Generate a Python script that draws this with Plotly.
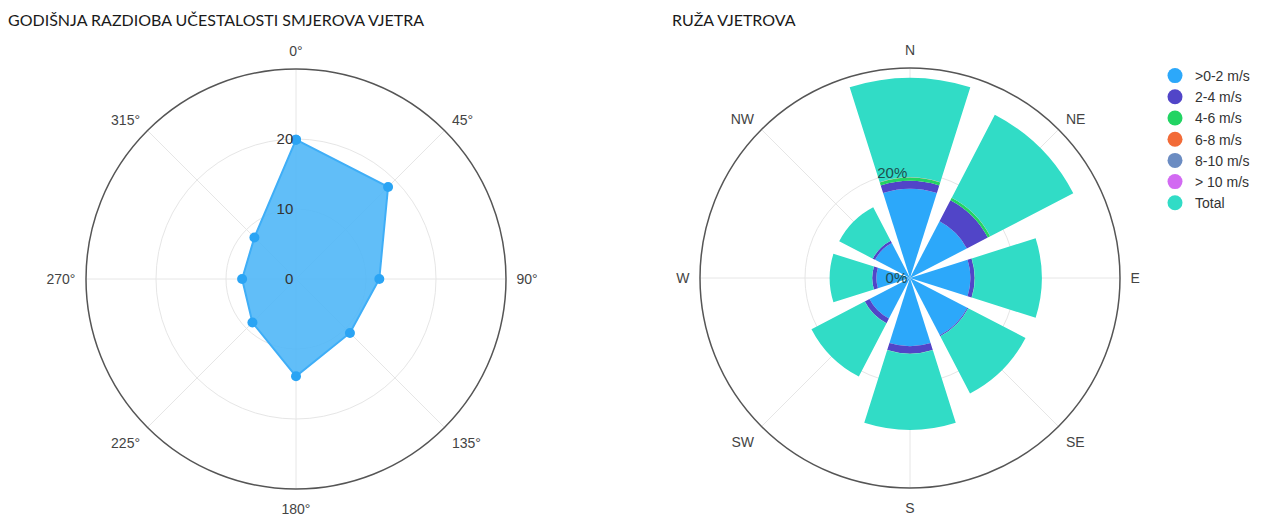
import plotly.graph_objects as go

# ---- Left chart data: annual frequency of wind directions (%) ----
freq_angles = [0, 45, 90, 135, 180, 225, 270, 315]
freq_values = [19.9, 18.6, 11.9, 10.9, 13.9, 8.8, 7.7, 8.4]
angle_ticks = [0, 45, 90, 135, 180, 225, 270, 315]

# ---- Right chart data: wind rose (%) ----
directions = ["N", "NE", "E", "SE", "S", "SW", "W", "NW"]
speed_0_2 = [17.0, 12.2, 11.5, 12.3, 13.0, 8.7, 6.4, 7.5]
speed_2_4 = [1.5, 4.5, 0.8, 0.2, 1.4, 1.0, 0.8, 0.5]
speed_4_6 = [0.6, 0.5, 0.05, 0.0, 0.05, 0.05, 0.0, 0.0]
speed_6_8 = [0.05, 0.05, 0.0, 0.0, 0.0, 0.0, 0.0, 0.0]
speed_8_10 = [0.0, 0.0, 0.0, 0.0, 0.0, 0.0, 0.0, 0.0]
speed_10p = [0.0, 0.0, 0.0, 0.0, 0.0, 0.0, 0.0, 0.0]
total = [18.95, 17.8, 12.75, 12.3, 14.45, 11.4, 8.1, 7.2]
radial_ticks = [0, 20]
radial_ticktext = ["0%", "20%"]

series_names = [">0-2 m/s", "2-4 m/s", "4-6 m/s", "6-8 m/s", "8-10 m/s", "> 10 m/s", "Total"]
series_values = [speed_0_2, speed_2_4, speed_4_6, speed_6_8, speed_8_10, speed_10p, total]
series_colors = ["#2CA8FA", "#5145C8", "#22D463", "#F26B38", "#6B8CC2", "#D26AF2", "#31DCC6"]

TICK_FONT = dict(family="Liberation Sans, Arial, sans-serif", size=14, color="#444444")
RAD_FONT = dict(family="Liberation Sans, Arial, sans-serif", size=15, color="#333333")
TITLE_FONT = dict(family="Lato, Open Sans, sans-serif", size=16, color="#1a1a1a")

fig = go.Figure()

# Left: frequency polygon
fig.add_trace(go.Scatterpolar(
    r=freq_values + freq_values[:1],
    theta=freq_angles + freq_angles[:1],
    mode="lines+markers",
    fill="toself",
    fillcolor="rgba(80,183,247,0.90)",
    line=dict(color="#3FAEF7", width=2),
    marker=dict(color="#2AA4F4", size=10),
    showlegend=False,
    subplot="polar",
    hoverinfo="r+theta",
))

# Right: stacked wind rose bars
for name, vals, col in zip(series_names, series_values, series_colors):
    fig.add_trace(go.Barpolar(
        r=vals, theta=directions, name=name,
        marker=dict(color=col, line=dict(width=0)),
        showlegend=False, subplot="polar2",
    ))
# legend entries (circle symbols)
for name, col in zip(series_names, series_colors):
    fig.add_trace(go.Scatterpolar(
        r=[None], theta=[None], mode="markers", name=name, legendgroup=name,
        marker=dict(color=col, size=15), subplot="polar2",
        showlegend=True,
    ))

W, H = 1262, 517

def dom(cx, cy, rad):
    return dict(x=[(cx - rad) / W, (cx + rad) / W],
                y=[(H - cy - rad) / H, (H - cy + rad) / H])

common_ang = dict(direction="clockwise", rotation=90, showline=True,
                  linecolor="#555555", linewidth=1.5, gridcolor="#E6E6E6",
                  tickfont=TICK_FONT, ticks="outside", ticklen=7,
                  tickcolor="rgba(0,0,0,0)", showgrid=True)

fig.update_layout(
    width=W, height=H,
    template="none",
    paper_bgcolor="white",
    margin=dict(l=0, r=0, t=0, b=0, autoexpand=False),
    polar=dict(
        domain=dom(296, 279, 210),
        bgcolor="white",
        angularaxis=dict(tickmode="array", tickvals=angle_ticks,
                         ticktext=[f"{a}°" for a in angle_ticks], **common_ang),
        radialaxis=dict(range=[0, 30], tickvals=[0, 10, 20], showline=False,
                        gridcolor="#E6E6E6", tickfont=RAD_FONT, ticks="",
                        angle=90, tickangle=90, side="counterclockwise"),
    ),
    polar2=dict(
        domain=dom(910, 278, 210),
        bgcolor="white",
        bargap=0.22,
        angularaxis=dict(type="category", categoryarray=directions, **common_ang),
        radialaxis=dict(range=[0, 40], tickmode="array", tickvals=radial_ticks,
                        ticktext=radial_ticktext,
                        showline=False, gridcolor="#E6E6E6",
                        tickfont=dict(family="Liberation Sans, Arial, sans-serif", size=15, color="#1f4f4f"),
                        ticks="", angle=90, tickangle=90, side="counterclockwise",
                        layer="above traces"),
    ),
    legend=dict(x=1155 / W, y=1 - 60 / H, xanchor="left", yanchor="top",
                font=dict(family="Liberation Sans, Arial, sans-serif", size=14, color="#333333"),
                traceorder="normal", itemwidth=30, tracegroupgap=2,
                bgcolor="rgba(0,0,0,0)"),
    annotations=[
        dict(text="GODIŠNJA RAZDIOBA UČESTALOSTI SMJEROVA VJETRA", x=6 / W, y=1 - 19 / H,
             xref="paper", yref="paper", xanchor="left", yanchor="middle",
             showarrow=False, font=TITLE_FONT),
        dict(text="RUŽA VJETROVA", x=670 / W, y=1 - 19 / H,
             xref="paper", yref="paper", xanchor="left", yanchor="middle",
             showarrow=False, font=TITLE_FONT),
    ],
)

fig.write_html("out.html", config={"displayModeBar": False},
               post_script="document.body.style.margin='0';document.body.style.padding='0';")
